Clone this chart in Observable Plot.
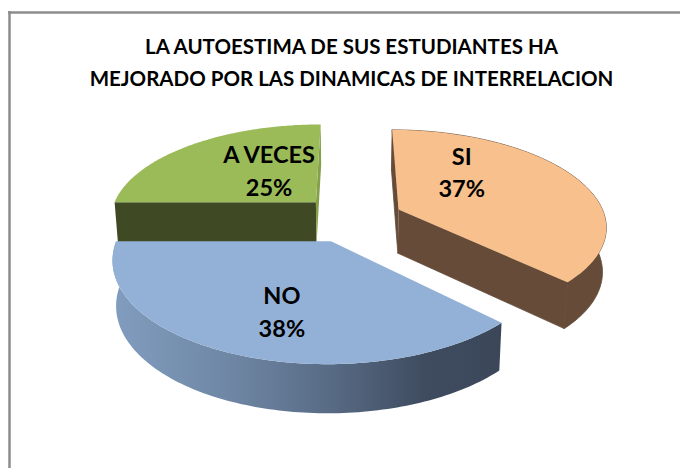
<!DOCTYPE html>
<html>
<head>
<meta charset="utf-8">
<script src="https://cdn.jsdelivr.net/npm/d3@7"></script>
<script src="https://cdn.jsdelivr.net/npm/@observablehq/plot@0.6"></script>
<style>html,body{margin:0;padding:0;background:#fff}svg{display:block}</style>
</head>
<body>
<div id="chart"></div>
<script>
const titleLines = ["LA AUTOESTIMA DE SUS ESTUDIANTES HA", "MEJORADO POR LAS DINAMICAS DE INTERRELACION"];
const categories = ["SI", "NO", "A VECES"];
const values = [37.4, 37.6, 25];
const topColors = ["#f8c08d", "#93b1d7", "#9bbb59"];
const wallColors = ["#654b38", "url(#nowall)", "#3f4924"];

// Camera of the tilted 3D pie
const view = {cx: 351, cy: 218, rx: 207, ry: 95, k: 0.16, depth: 44, taper: 0.015, explode: 0.25};
// Label offset from each slice's apex: turn from its mid-angle (deg) and radius fraction
const labelTurn = [-29.5, -4.3, 11.6];
const labelRadius = [0.568, 0.635, 0.468];

function project(u, v, z) {
  const s = 1 / (1 - view.k * v);
  return {
    x: view.cx + view.rx * u * s * (1 - view.taper * z),
    y: view.cy + view.ry * v * s + view.depth * Math.sqrt(s) * z
  };
}

const total = d3.sum(values);
let running = 0;
const slices = categories.map((name, i) => {
  const a0 = running / total * 2 * Math.PI;
  running += values[i];
  const a1 = running / total * 2 * Math.PI;
  const mid = (a0 + a1) / 2;
  return {name, value: Math.round(values[i]), a0, a1, mid,
    ex: view.explode * Math.sin(mid), ey: -view.explode * Math.cos(mid), i};
});

const rim = (s, a, z) => project(s.ex + Math.sin(a), s.ey - Math.cos(a), z);
const apex = (s, z) => project(s.ex, s.ey, z);
const arc = (s, z) => d3.range(0, 121).map(t => rim(s, s.a0 + (s.a1 - s.a0) * t / 120, z));
const topFace = s => [apex(s, 0), ...arc(s, 0)];
const arcWall = s => [...arc(s, 0), ...arc(s, 1).reverse()];
const cutFace = (s, a) => [apex(s, 0), rim(s, a, 0), rim(s, a, 1), apex(s, 1)];

const poly = (pts, fill, stroke = "none") => Plot.line(pts, {x: "x", y: "y", fill, stroke, strokeWidth: 0.8});
const [si, no, av] = slices;

const gradient = () => {
  const ns = "http://www.w3.org/2000/svg";
  const defs = document.createElementNS(ns, "defs");
  const g = document.createElementNS(ns, "linearGradient");
  g.setAttribute("id", "nowall");
  [[0, "#819dbf"], [0.3, "#6f87a5"], [0.55, "#596c86"], [0.8, "#3f4c60"], [1, "#3b4759"]].forEach(([o, c]) => {
    const st = document.createElementNS(ns, "stop");
    st.setAttribute("offset", o);
    st.setAttribute("stop-color", c);
    g.appendChild(st);
  });
  defs.appendChild(g);
  return defs;
};

const labels = slices.map((s, i) => {
  const a = s.mid + labelTurn[i] * Math.PI / 180;
  const r = labelRadius[i];
  const p = project(s.ex + r * Math.sin(a), s.ey - r * Math.cos(a), 0);
  return {...p, text: `${s.name}\n${s.value}%`};
});

const titleData = titleLines.map((text, i) => ({text, x: view.cx, y: 46.5 + i * 32}));

const chart = Plot.plot({
  width: 680,
  height: 468,
  margin: 0,
  x: {domain: [0, 680], range: [0, 680], axis: null},
  y: {domain: [0, 468], range: [0, 468], axis: null},
  style: {background: "#fff"},
  marks: [
    gradient,
    Plot.ruleY([12], {x1: 8, x2: 680, stroke: "#8c8c8c", strokeWidth: 2.5}),
    Plot.ruleX([9], {y1: 11, y2: 468, stroke: "#8c8c8c", strokeWidth: 2.5}),

    poly(cutFace(av, av.a0), wallColors[2]),
    poly(cutFace(av, av.a1), "#84a04a"),
    poly(topFace(av), topColors[2]),

    poly(cutFace(si, si.a0), wallColors[0], wallColors[0]),
    poly(cutFace(si, si.a1), wallColors[0], wallColors[0]),
    poly(arcWall(si), wallColors[0], wallColors[0]),
    poly(topFace(si), topColors[0]),

    poly(arcWall(no), wallColors[1]),
    poly(topFace(no), topColors[1]),

    Plot.text(titleData, {x: "x", y: "y", text: "text", fill: "#000", fontSize: 20.5, fontWeight: 700, fontFamily: "Lato", textAnchor: "middle"}),
    Plot.text(labels, {x: "x", y: "y", text: "text", fill: "#000", fontSize: 23.5, fontWeight: 700, fontFamily: "Lato", textAnchor: "middle", lineHeight: 1.38})
  ]
});
document.getElementById("chart").appendChild(chart);
</script>
</body>
</html>
